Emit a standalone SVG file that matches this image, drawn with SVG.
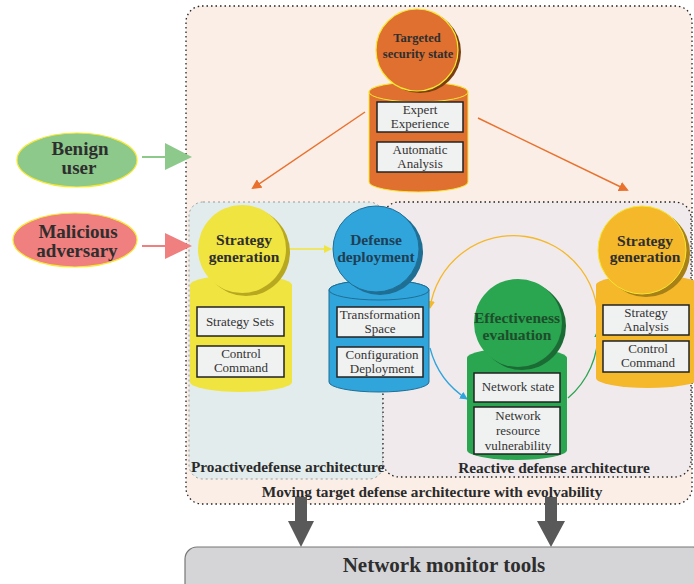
<svg xmlns="http://www.w3.org/2000/svg" width="694" height="584" viewBox="0 0 694 584">
<style>
.tb{fill:#f0f1f1;stroke:#222;stroke-width:1.5}
.tt{font-family:"Liberation Serif","DejaVu Serif",serif;font-size:13px;fill:#333;text-anchor:middle}
.ct{font-family:"Liberation Serif","DejaVu Serif",serif;font-size:15.5px;font-weight:bold;fill:#2e2e2e;text-anchor:middle}
.lb{font-family:"Liberation Serif","DejaVu Serif",serif;font-size:15.3px;font-weight:bold;fill:#2a2a2a}
</style>
<defs>
<marker id="ao" markerWidth="10" markerHeight="10" refX="8" refY="5" orient="auto" markerUnits="userSpaceOnUse"><path d="M0,0 L10,5 L0,10 Z" fill="#e9712d"/></marker>
<marker id="ay" markerWidth="8" markerHeight="8" refX="7" refY="4" orient="auto" markerUnits="userSpaceOnUse"><path d="M0,0 L8,4 L0,8 Z" fill="#f0e440"/></marker>
<marker id="ayo" markerWidth="8" markerHeight="8" refX="7" refY="4" orient="auto" markerUnits="userSpaceOnUse"><path d="M0,0 L8,4 L0,8 Z" fill="#f4b82a"/></marker>
<marker id="ab" markerWidth="8" markerHeight="8" refX="7" refY="4" orient="auto" markerUnits="userSpaceOnUse"><path d="M0,0 L8,4 L0,8 Z" fill="#30a5dc"/></marker>
<marker id="ag" markerWidth="8" markerHeight="8" refX="7" refY="4" orient="auto" markerUnits="userSpaceOnUse"><path d="M0,0 L8,4 L0,8 Z" fill="#2aa550"/></marker>
</defs>

<g id="outer">
<rect x="186" y="6" width="506" height="498" rx="16" fill="#faeee6" stroke="#222" stroke-width="1.3" stroke-dasharray="1.5,3"/>
<text class="lb" x="432" y="497" text-anchor="middle">Moving target defense architecture with evolvability</text>
</g>
<g id="proactive">
<rect x="189" y="202" width="194" height="277" rx="14" fill="#e3ecec" stroke="#999" stroke-width="1" stroke-dasharray="2,3"/>
</g>
<g id="reactive">
<rect x="383" y="202" width="308" height="275" rx="16" fill="#f0eaed" stroke="#222" stroke-width="1.3" stroke-dasharray="1.5,3"/>
<text class="lb" x="554" y="473" text-anchor="middle">Reactive defense architecture</text>
</g>
<text class="lb" x="191" y="472">Proactivedefense architecture</text>

<g id="connectors">
<line x1="365" y1="112" x2="253" y2="188" stroke="#e9712d" stroke-width="1.5" marker-end="url(#ao)"/>
<line x1="478" y1="118" x2="627" y2="190" stroke="#e9712d" stroke-width="1.5" marker-end="url(#ao)"/>
<line x1="142" y1="157" x2="166" y2="157" stroke="#8dc98b" stroke-width="2"/>
<path d="M165,143 L192,157 L165,170 Z" fill="#8dc98b"/>
<line x1="142" y1="246" x2="166" y2="246" stroke="#f07f7f" stroke-width="2"/>
<path d="M165,233 L192,246 L165,259 Z" fill="#f07f7f"/>
<line x1="288" y1="249" x2="331" y2="249" stroke="#f0e440" stroke-width="1.5" marker-end="url(#ay)"/>
<path d="M597,332 A84,84 0 1 0 430,308" fill="none" stroke="#f4b82a" stroke-width="1.3" marker-end="url(#ayo)"/>
<path d="M430,348 A86,86 0 0 0 467,399" fill="none" stroke="#30a5dc" stroke-width="1.3" marker-end="url(#ab)"/>
<path d="M568,398 A86,86 0 0 0 598,330" fill="none" stroke="#2aa550" stroke-width="1.3" marker-end="url(#ag)"/>
<path d="M295,497 H307 V521 H314 L301,547 L288,521 H295 Z" fill="#595959"/>
<path d="M545,497 H557 V521 H565 L551,547 L537,521 H545 Z" fill="#595959"/>
</g>

<g id="targeted">
<path d="M369,92 A49.5,10 0 0 1 468,92 V182 A49.5,10 0 0 1 369,182 Z" fill="#e07030" stroke="#f5e830" stroke-width="1"/>
<ellipse cx="418.5" cy="92" rx="49.5" ry="10" fill="#e07030" stroke="#f5e830" stroke-width="1"/>
<circle cx="420" cy="52" r="41" fill="#7a3d12"/>
<circle cx="417" cy="50" r="41" fill="#e07030" stroke="#f5e830" stroke-width="1.2"/>
<text class="ct" x="417" y="42" style="font-size:12.5px">Targeted</text>
<text class="ct" x="418" y="58" style="font-size:12.5px">security state</text>
<rect class="tb" x="377" y="102" width="86" height="30"/>
<text class="tt" x="420" y="114">Expert</text>
<text class="tt" x="420" y="128">Experience</text>
<rect class="tb" x="377" y="142" width="86" height="30"/>
<text class="tt" x="420" y="154">Automatic</text>
<text class="tt" x="420" y="168">Analysis</text>
</g>

<g id="benign">
<ellipse cx="77" cy="160" rx="60" ry="27" fill="#8dc98b" stroke="#f5e830" stroke-width="1.2"/>
<text class="ct" x="80" y="155" style="font-size:19px">Benign</text>
<text class="ct" x="79" y="174" style="font-size:19px">user</text>
</g>
<g id="malicious">
<ellipse cx="75" cy="240" rx="62" ry="27" fill="#f07f7f" stroke="#f5e830" stroke-width="1.2"/>
<text class="ct" x="78" y="238" style="font-size:19px">Malicious</text>
<text class="ct" x="77" y="257" style="font-size:19px">adversary</text>
</g>

<g id="strategy-proactive">
<path d="M190,285 A51,10 0 0 1 292,285 V382 A51,10 0 0 1 190,382 Z" fill="#f0e440"/>
<circle cx="246" cy="252" r="44" fill="#b8a820"/>
<circle cx="242" cy="249" r="44" fill="#f0e440"/>
<text class="ct" x="244" y="245">Strategy</text>
<text class="ct" x="244" y="262">generation</text>
<rect class="tb" x="197" y="307" width="87" height="29"/>
<text class="tt" x="240" y="326">Strategy Sets</text>
<rect class="tb" x="197" y="346" width="87" height="31"/>
<text class="tt" x="241" y="358">Control</text>
<text class="tt" x="241" y="372">Command</text>
</g>

<g id="defense-deployment">
<path d="M329,290 A50,10 0 0 1 429,290 V382 A50,10 0 0 1 329,382 Z" fill="#30a5dc" stroke="#1f6f95" stroke-width="1"/>
<ellipse cx="379" cy="290" rx="50" ry="10" fill="#30a5dc" stroke="#1f6f95" stroke-width="1"/>
<circle cx="380" cy="252" r="43" fill="#1f6f95"/>
<circle cx="376" cy="249" r="43" fill="#30a5dc" stroke="#1f6f95" stroke-width="1"/>
<text class="ct" x="376" y="245" style="fill:#1f3f55">Defense</text>
<text class="ct" x="376" y="262" style="fill:#1f3f55">deployment</text>
<rect class="tb" x="337" y="307" width="86" height="30"/>
<text class="tt" x="380" y="319">Transformation</text>
<text class="tt" x="380" y="333">Space</text>
<rect class="tb" x="337" y="347" width="86" height="30"/>
<text class="tt" x="382" y="359">Configuration</text>
<text class="tt" x="382" y="373">Deployment</text>
</g>

<g id="effectiveness">
<path d="M467,358 A50,10 0 0 1 567,358 V450 A50,10 0 0 1 467,450 Z" fill="#2aa550"/>
<circle cx="522" cy="326" r="44" fill="#1b6b35"/>
<circle cx="518" cy="323" r="44" fill="#2aa550"/>
<text class="ct" x="517" y="323" style="fill:#1e4d2b">Effectiveness</text>
<text class="ct" x="517" y="340" style="fill:#1e4d2b">evaluation</text>
<rect class="tb" x="474" y="373" width="86" height="29"/>
<text class="tt" x="518" y="391">Network state</text>
<rect class="tb" x="474" y="407" width="86" height="47"/>
<text class="tt" x="518" y="420">Network</text>
<text class="tt" x="518" y="435">resource</text>
<text class="tt" x="518" y="450">vulnerability</text>
</g>

<g id="strategy-reactive">
<path d="M596,285 A52,10 0 0 1 700,285 V378 A52,10 0 0 1 596,378 Z" fill="#f4b82a"/>
<circle cx="646" cy="253" r="44" fill="#a88018"/>
<circle cx="642" cy="250" r="44" fill="#f4b82a" stroke="#f5e830" stroke-width="1"/>
<text class="ct" x="645" y="246">Strategy</text>
<text class="ct" x="645" y="262">generation</text>
<rect class="tb" x="603" y="305" width="86" height="30"/>
<text class="tt" x="646" y="317">Strategy</text>
<text class="tt" x="646" y="331">Analysis</text>
<rect class="tb" x="603" y="341" width="86" height="31"/>
<text class="tt" x="648" y="353">Control</text>
<text class="tt" x="648" y="367">Command</text>
</g>

<g id="monitor">
<rect x="185" y="547" width="520" height="50" rx="12" fill="#d5d5d7" stroke="#777" stroke-width="1.2"/>
<text class="ct" x="444" y="572" style="font-size:21px">Network monitor tools</text>
</g>
</svg>
